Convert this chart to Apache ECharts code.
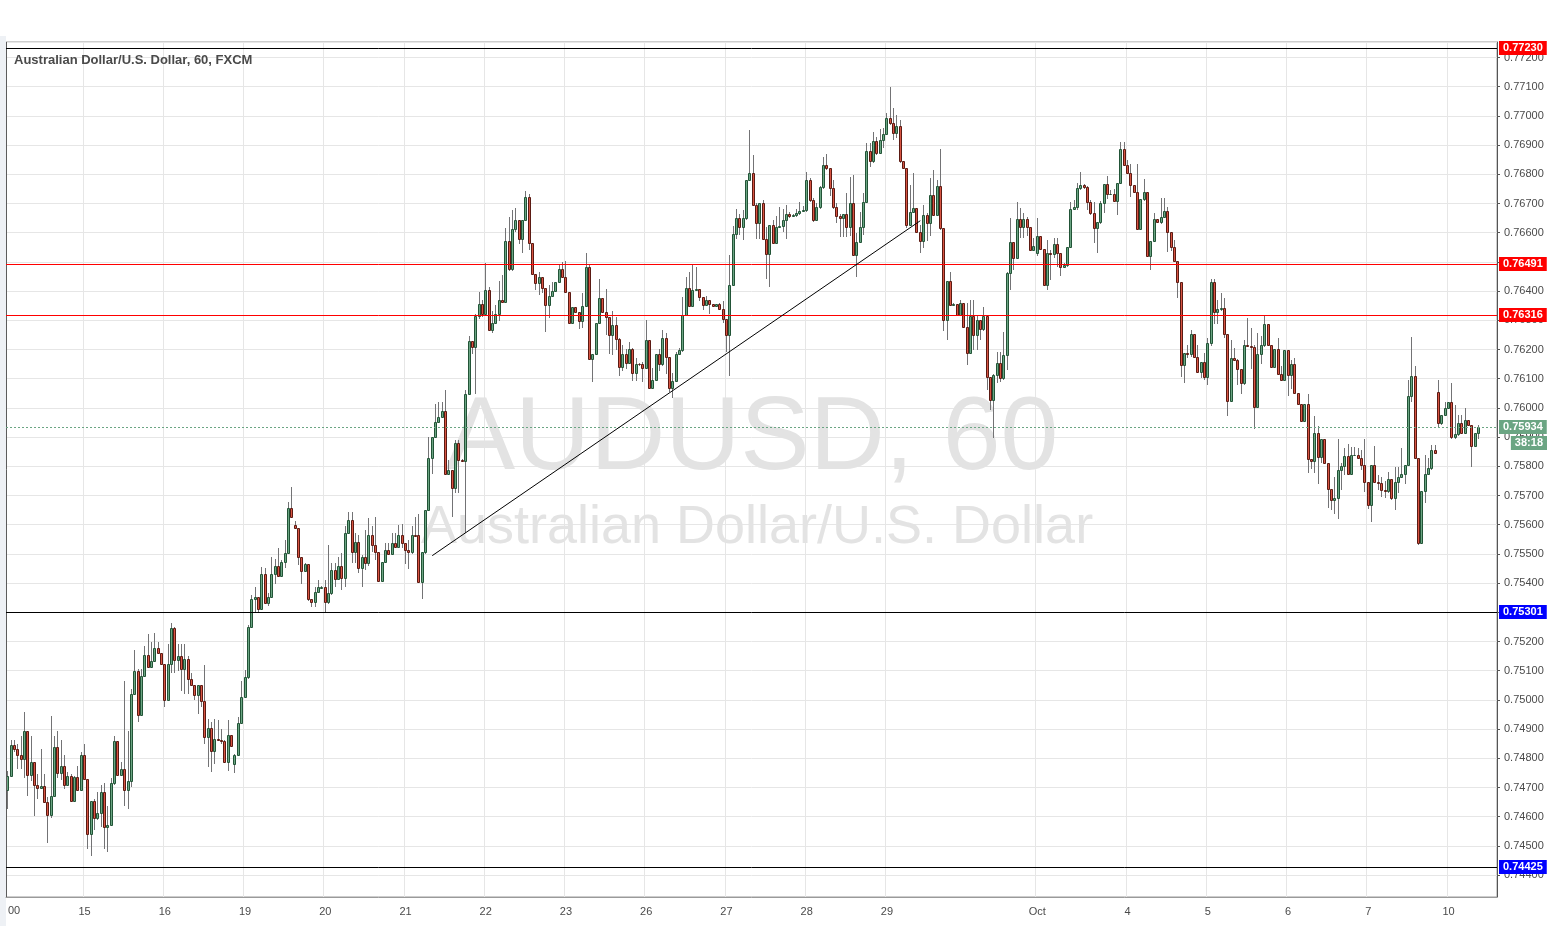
<!DOCTYPE html>
<html><head><meta charset="utf-8">
<script src="https://cdn.jsdelivr.net/npm/echarts@6/dist/echarts.min.js"></script>
<style>html,body{margin:0;padding:0;background:#fff}#c{width:1555px;height:926px}</style>
</head><body><div id="c"></div>
<script>
// ---- DATA (AUD/USD hourly candles) ----
const openP=[0.74693,0.74741,0.74844,0.74832,0.74812,0.74798,0.74892,0.74743,0.74786,0.74709,
0.74699,0.74705,0.74652,0.74606,0.74671,0.74840,0.74750,0.74775,0.74709,0.74741,
0.74654,0.74737,0.74693,0.74810,0.74730,0.74541,0.74655,0.74596,0.74614,0.74683,
0.74566,0.74570,0.74716,0.74858,0.74743,0.74762,0.74693,0.74721,0.75021,0.75100,
0.74949,0.75082,0.75154,0.75112,0.75134,0.75178,0.75161,0.75124,0.75001,0.75124,
0.75247,0.75137,0.75150,0.75106,0.75141,0.75072,0.75052,0.75017,0.75052,0.74996,
0.74872,0.74904,0.74824,0.74867,0.74864,0.74860,0.74787,0.74880,0.74779,0.74813,
0.74921,0.75009,0.75078,0.75251,0.75345,0.75352,0.75311,0.75431,0.75331,0.75352,
0.75431,0.75459,0.75423,0.75471,0.75503,0.75657,0.75598,0.75588,0.75491,0.75443,
0.75465,0.75345,0.75334,0.75368,0.75383,0.75385,0.75334,0.75366,0.75445,0.75413,
0.75459,0.75416,0.75573,0.75617,0.75505,0.75540,0.75451,0.75489,0.75468,0.75564,
0.75530,0.75507,0.75408,0.75472,0.75513,0.75501,0.75539,0.75524,0.75566,0.75536,
0.75513,0.75505,0.75566,0.75566,0.75404,0.75507,0.75652,0.75830,0.75901,0.75952,
0.75969,0.75989,0.75773,0.75787,0.75724,0.75880,0.75821,0.75818,0.76047,0.76230,
0.76207,0.76313,0.76355,0.76323,0.76405,0.76268,0.76289,0.76323,0.76371,0.76361,
0.76571,0.76474,0.76611,0.76645,0.76580,0.76645,0.76721,0.76566,0.76460,0.76428,
0.76447,0.76412,0.76354,0.76383,0.76401,0.76432,0.76474,0.76449,0.76397,0.76289,
0.76346,0.76329,0.76298,0.76350,0.76481,0.76169,0.76183,0.76289,0.76378,0.76329,
0.76312,0.76251,0.76284,0.76236,0.76141,0.76186,0.76155,0.76203,0.76121,0.76152,
0.76149,0.76137,0.76232,0.76067,0.76097,0.76186,0.76149,0.76241,0.76173,0.76069,
0.76092,0.76183,0.76198,0.76318,0.76409,0.76349,0.76403,0.76406,0.76379,0.76354,
0.76368,0.76357,0.76349,0.76357,0.76340,0.76303,0.76249,0.76420,0.76597,0.76649,
0.76618,0.76649,0.76780,0.76805,0.76695,0.76634,0.76700,0.76580,0.76526,0.76626,
0.76566,0.76620,0.76623,0.76643,0.76664,0.76656,0.76659,0.76668,0.76675,0.76677,
0.76780,0.76712,0.76645,0.76687,0.76755,0.76832,0.76820,0.76752,0.76689,0.76657,
0.76649,0.76663,0.76618,0.76701,0.76522,0.76567,0.76618,0.76704,0.76880,0.76844,
0.76914,0.76872,0.76918,0.76937,0.76992,0.76975,0.76941,0.76966,0.76844,0.76821,
0.76627,0.76670,0.76684,0.76602,0.76570,0.76661,0.76632,0.76729,0.76661,0.76760,
0.76615,0.76301,0.76433,0.76352,0.76356,0.76318,0.76358,0.76276,0.76187,0.76313,
0.76250,0.76301,0.76269,0.76313,0.76107,0.76027,0.76113,0.76153,0.76101,0.76181,
0.76461,0.76569,0.76512,0.76646,0.76621,0.76646,0.76618,0.76541,0.76530,0.76589,
0.76543,0.76421,0.76529,0.76526,0.76561,0.76529,0.76484,0.76491,0.76550,0.76680,
0.76687,0.76752,0.76763,0.76757,0.76704,0.76666,0.76615,0.76635,0.76700,0.76765,
0.76731,0.76734,0.76708,0.76769,0.76886,0.76832,0.76803,0.76763,0.76738,0.76611,
0.76715,0.76738,0.76521,0.76571,0.76647,0.76635,0.76655,0.76674,0.76601,0.76552,
0.76503,0.76430,0.76147,0.76187,0.76184,0.76252,0.76175,0.76124,0.76156,0.76107,
0.76221,0.76432,0.76328,0.76339,0.76343,0.76254,0.76023,0.76172,0.76164,0.76134,
0.76086,0.76214,0.76212,0.76209,0.76004,0.76183,0.76214,0.76286,0.76217,0.76141,
0.76200,0.76117,0.76095,0.76198,0.76112,0.76149,0.76050,0.76014,0.75955,0.76012,
0.75826,0.75818,0.75915,0.75833,0.75892,0.75812,0.75721,0.75684,0.75690,0.75787,
0.75800,0.75835,0.75775,0.75838,0.75840,0.75827,0.75804,0.75747,0.75667,0.75806,
0.75747,0.75742,0.75718,0.75716,0.75758,0.75690,0.75747,0.75764,0.75773,0.75804,
0.76042,0.76109,0.75830,0.75539,0.75716,0.75773,0.75795,0.75855,0.76053,0.75947,
0.75975,0.75998,0.76021,0.75899,0.75909,0.75947,0.75915,0.75958,0.75943,0.75869,0.75915];
const closeP=[0.74741,0.74844,0.74832,0.74812,0.74798,0.74892,0.74743,0.74786,0.74709,0.74699,
0.74705,0.74652,0.74606,0.74671,0.74840,0.74750,0.74775,0.74709,0.74741,0.74654,
0.74737,0.74693,0.74810,0.74730,0.74541,0.74655,0.74596,0.74614,0.74683,0.74566,
0.74570,0.74716,0.74858,0.74743,0.74762,0.74693,0.74721,0.75021,0.75100,0.74949,
0.75082,0.75154,0.75112,0.75134,0.75178,0.75161,0.75124,0.75001,0.75124,0.75247,
0.75137,0.75150,0.75106,0.75141,0.75072,0.75052,0.75017,0.75052,0.74996,0.74872,
0.74904,0.74824,0.74867,0.74864,0.74860,0.74787,0.74880,0.74841,0.74813,0.74921,
0.75009,0.75078,0.75251,0.75345,0.75352,0.75311,0.75431,0.75331,0.75352,0.75431,
0.75459,0.75423,0.75471,0.75503,0.75657,0.75626,0.75588,0.75491,0.75443,0.75465,
0.75345,0.75334,0.75368,0.75385,0.75385,0.75334,0.75366,0.75445,0.75413,0.75459,
0.75416,0.75573,0.75617,0.75505,0.75540,0.75451,0.75489,0.75468,0.75564,0.75530,
0.75507,0.75408,0.75472,0.75513,0.75501,0.75539,0.75524,0.75566,0.75536,0.75513,
0.75505,0.75566,0.75562,0.75404,0.75507,0.75652,0.75830,0.75901,0.75952,0.75969,
0.75989,0.75773,0.75787,0.75724,0.75880,0.75821,0.75818,0.76047,0.76230,0.76207,
0.76313,0.76355,0.76323,0.76405,0.76268,0.76289,0.76323,0.76371,0.76361,0.76571,
0.76474,0.76611,0.76645,0.76580,0.76645,0.76721,0.76566,0.76460,0.76428,0.76447,
0.76412,0.76354,0.76383,0.76401,0.76432,0.76474,0.76449,0.76397,0.76289,0.76346,
0.76329,0.76298,0.76350,0.76481,0.76169,0.76183,0.76289,0.76378,0.76329,0.76312,
0.76251,0.76284,0.76236,0.76141,0.76186,0.76155,0.76203,0.76121,0.76152,0.76149,
0.76137,0.76232,0.76067,0.76097,0.76186,0.76149,0.76241,0.76173,0.76069,0.76092,
0.76183,0.76198,0.76318,0.76409,0.76349,0.76403,0.76406,0.76379,0.76354,0.76368,
0.76357,0.76349,0.76357,0.76340,0.76303,0.76249,0.76420,0.76597,0.76649,0.76618,
0.76649,0.76780,0.76805,0.76695,0.76634,0.76700,0.76580,0.76526,0.76626,0.76566,
0.76620,0.76623,0.76643,0.76664,0.76656,0.76659,0.76668,0.76675,0.76677,0.76780,
0.76712,0.76645,0.76687,0.76755,0.76832,0.76820,0.76752,0.76689,0.76657,0.76649,
0.76663,0.76618,0.76701,0.76522,0.76567,0.76618,0.76704,0.76880,0.76844,0.76914,
0.76872,0.76918,0.76937,0.76992,0.76975,0.76941,0.76966,0.76844,0.76821,0.76627,
0.76670,0.76684,0.76602,0.76570,0.76661,0.76632,0.76729,0.76661,0.76760,0.76615,
0.76301,0.76433,0.76353,0.76356,0.76318,0.76358,0.76276,0.76187,0.76313,0.76250,
0.76301,0.76269,0.76313,0.76107,0.76027,0.76113,0.76153,0.76101,0.76181,0.76461,
0.76569,0.76512,0.76646,0.76621,0.76646,0.76618,0.76541,0.76555,0.76589,0.76543,
0.76421,0.76529,0.76526,0.76561,0.76529,0.76484,0.76491,0.76550,0.76680,0.76687,
0.76752,0.76763,0.76757,0.76704,0.76666,0.76615,0.76635,0.76700,0.76765,0.76731,
0.76734,0.76708,0.76769,0.76886,0.76832,0.76803,0.76763,0.76738,0.76611,0.76715,
0.76738,0.76521,0.76571,0.76647,0.76635,0.76655,0.76674,0.76601,0.76552,0.76503,
0.76430,0.76147,0.76187,0.76184,0.76252,0.76175,0.76124,0.76156,0.76107,0.76221,
0.76432,0.76328,0.76339,0.76343,0.76254,0.76023,0.76172,0.76164,0.76134,0.76086,
0.76214,0.76212,0.76209,0.76004,0.76183,0.76214,0.76286,0.76217,0.76141,0.76200,
0.76117,0.76095,0.76198,0.76112,0.76149,0.76050,0.76014,0.75955,0.76012,0.75826,
0.75818,0.75915,0.75833,0.75892,0.75812,0.75721,0.75684,0.75690,0.75787,0.75800,
0.75835,0.75775,0.75838,0.75840,0.75827,0.75804,0.75747,0.75667,0.75806,0.75747,
0.75742,0.75718,0.75716,0.75758,0.75690,0.75747,0.75764,0.75773,0.75804,0.76042,
0.76109,0.75830,0.75539,0.75716,0.75773,0.75795,0.75855,0.75844,0.75947,0.75975,
0.75998,0.76021,0.75899,0.75909,0.75947,0.75915,0.75958,0.75943,0.75869,0.75915,0.75934];
const highP=[0.74756,0.74861,0.74864,0.74850,0.74876,0.74958,0.74895,0.74876,0.74788,0.74747,
0.74832,0.74747,0.74667,0.74944,0.74878,0.74895,0.74864,0.74810,0.74753,0.74747,
0.74740,0.74773,0.74821,0.74850,0.74730,0.74655,0.74660,0.74686,0.74707,0.74715,
0.74638,0.74733,0.74876,0.74860,0.74787,0.75064,0.74892,0.75037,0.75171,0.75105,
0.75105,0.75186,0.75226,0.75198,0.75228,0.75198,0.75161,0.75124,0.75192,0.75264,
0.75251,0.75192,0.75192,0.75192,0.75152,0.75092,0.75052,0.75052,0.75052,0.75118,
0.74935,0.74924,0.74935,0.74930,0.74900,0.74863,0.74932,0.74880,0.74815,0.74941,
0.75066,0.75101,0.75255,0.75360,0.75388,0.75352,0.75455,0.75451,0.75366,0.75488,
0.75484,0.75520,0.75480,0.75548,0.75676,0.75729,0.75614,0.75588,0.75491,0.75468,
0.75465,0.75345,0.75386,0.75411,0.75390,0.75411,0.75531,0.75468,0.75468,0.75489,
0.75502,0.75594,0.75645,0.75645,0.75571,0.75565,0.75497,0.75582,0.75622,0.75594,
0.75627,0.75507,0.75472,0.75536,0.75538,0.75570,0.75572,0.75598,0.75602,0.75536,
0.75547,0.75595,0.75627,0.75638,0.75507,0.75652,0.75901,0.75901,0.76015,0.76020,
0.76020,0.76061,0.75821,0.75787,0.75890,0.75890,0.75825,0.76060,0.76246,0.76230,
0.76323,0.76397,0.76369,0.76495,0.76415,0.76331,0.76352,0.76434,0.76455,0.76617,
0.76654,0.76677,0.76683,0.76645,0.76645,0.76743,0.76734,0.76566,0.76460,0.76466,
0.76447,0.76412,0.76420,0.76432,0.76432,0.76491,0.76500,0.76503,0.76397,0.76346,
0.76346,0.76329,0.76392,0.76529,0.76489,0.76183,0.76290,0.76443,0.76378,0.76407,
0.76312,0.76331,0.76312,0.76240,0.76215,0.76203,0.76226,0.76205,0.76170,0.76155,
0.76158,0.76301,0.76232,0.76136,0.76186,0.76203,0.76266,0.76255,0.76173,0.76118,
0.76192,0.76205,0.76380,0.76449,0.76466,0.76491,0.76483,0.76406,0.76379,0.76383,
0.76368,0.76357,0.76357,0.76360,0.76366,0.76303,0.76523,0.76623,0.76680,0.76664,
0.76677,0.76780,0.76951,0.76866,0.76700,0.76700,0.76712,0.76620,0.76626,0.76643,
0.76657,0.76689,0.76680,0.76695,0.76670,0.76665,0.76680,0.76706,0.76690,0.76809,
0.76786,0.76720,0.76700,0.76760,0.76860,0.76871,0.76820,0.76782,0.76700,0.76663,
0.76665,0.76737,0.76792,0.76798,0.76598,0.76672,0.76735,0.76906,0.76906,0.76946,
0.76929,0.76954,0.76958,0.77009,0.77098,0.77026,0.77003,0.76986,0.76844,0.76821,
0.76764,0.76804,0.76684,0.76627,0.76695,0.76667,0.76787,0.76813,0.76781,0.76886,
0.76615,0.76433,0.76467,0.76358,0.76356,0.76370,0.76358,0.76358,0.76370,0.76370,
0.76313,0.76301,0.76347,0.76313,0.76107,0.76115,0.76193,0.76193,0.76261,0.76465,
0.76649,0.76569,0.76706,0.76684,0.76666,0.76655,0.76618,0.76581,0.76649,0.76589,
0.76543,0.76575,0.76541,0.76581,0.76581,0.76529,0.76495,0.76550,0.76706,0.76712,
0.76769,0.76809,0.76765,0.76760,0.76712,0.76706,0.76635,0.76708,0.76765,0.76795,
0.76746,0.76751,0.76769,0.76909,0.76909,0.76849,0.76834,0.76763,0.76834,0.76715,
0.76784,0.76738,0.76571,0.76666,0.76647,0.76720,0.76720,0.76689,0.76601,0.76575,
0.76503,0.76430,0.76187,0.76217,0.76266,0.76252,0.76217,0.76156,0.76187,0.76240,
0.76442,0.76440,0.76371,0.76392,0.76377,0.76254,0.76234,0.76206,0.76166,0.76134,
0.76231,0.76309,0.76275,0.76214,0.76257,0.76246,0.76314,0.76286,0.76217,0.76200,
0.76240,0.76143,0.76198,0.76198,0.76164,0.76172,0.76050,0.76014,0.76012,0.76046,
0.75826,0.75972,0.75938,0.75892,0.75892,0.75812,0.75721,0.75764,0.75895,0.75810,
0.75861,0.75878,0.75867,0.75867,0.75861,0.75855,0.75895,0.75747,0.75806,0.75869,
0.75770,0.75764,0.75750,0.75781,0.75758,0.75798,0.75798,0.75861,0.75804,0.76095,
0.76243,0.76143,0.75830,0.75716,0.75838,0.75827,0.75872,0.75872,0.76095,0.75975,
0.76021,0.76021,0.76086,0.76010,0.75975,0.75975,0.76001,0.75958,0.75943,0.75915,0.75941];
const lowP=[0.74627,0.74740,0.74820,0.74762,0.74762,0.74732,0.74670,0.74722,0.74604,0.74661,
0.74695,0.74650,0.74509,0.74595,0.74670,0.74732,0.74727,0.74695,0.74708,0.74650,
0.74650,0.74690,0.74690,0.74730,0.74490,0.74467,0.74553,0.74590,0.74564,0.74490,
0.74479,0.74570,0.74709,0.74740,0.74740,0.74636,0.74625,0.74700,0.75020,0.74924,
0.74949,0.75080,0.75110,0.75110,0.75130,0.75160,0.75124,0.74977,0.75000,0.75092,
0.75092,0.75100,0.75032,0.75021,0.75021,0.75050,0.75000,0.74950,0.74975,0.74850,
0.74770,0.74753,0.74781,0.74860,0.74850,0.74785,0.74758,0.74840,0.74749,0.74810,
0.74920,0.75008,0.75070,0.75250,0.75300,0.75300,0.75310,0.75330,0.75322,0.75350,
0.75397,0.75420,0.75420,0.75451,0.75500,0.75625,0.75588,0.75463,0.75397,0.75440,
0.75340,0.75318,0.75318,0.75365,0.75380,0.75297,0.75329,0.75360,0.75388,0.75410,
0.75377,0.75388,0.75570,0.75468,0.75468,0.75434,0.75388,0.75445,0.75460,0.75505,
0.75479,0.75404,0.75404,0.75470,0.75500,0.75496,0.75520,0.75520,0.75519,0.75465,
0.75447,0.75500,0.75560,0.75400,0.75344,0.75500,0.75650,0.75775,0.75900,0.75947,
0.75969,0.75770,0.75770,0.75627,0.75707,0.75707,0.75815,0.75570,0.76045,0.76186,
0.76047,0.76306,0.76312,0.76320,0.76265,0.76255,0.76289,0.76297,0.76360,0.76360,
0.76470,0.76470,0.76603,0.76560,0.76532,0.76640,0.76540,0.76460,0.76403,0.76386,
0.76392,0.76260,0.76308,0.76380,0.76400,0.76430,0.76449,0.76397,0.76289,0.76289,
0.76329,0.76270,0.76272,0.76350,0.76163,0.76089,0.76180,0.76289,0.76329,0.76249,
0.76186,0.76180,0.76198,0.76110,0.76128,0.76134,0.76150,0.76092,0.76092,0.76145,
0.76089,0.76135,0.76067,0.76065,0.76095,0.76127,0.76145,0.76115,0.76055,0.76035,
0.76090,0.76180,0.76192,0.76313,0.76347,0.76347,0.76400,0.76365,0.76336,0.76353,
0.76321,0.76346,0.76347,0.76338,0.76291,0.76192,0.76110,0.76420,0.76577,0.76592,
0.76575,0.76645,0.76777,0.76690,0.76577,0.76577,0.76577,0.76443,0.76415,0.76565,
0.76565,0.76615,0.76603,0.76580,0.76650,0.76653,0.76655,0.76660,0.76670,0.76670,
0.76706,0.76636,0.76640,0.76680,0.76750,0.76815,0.76725,0.76680,0.76632,0.76584,
0.76584,0.76584,0.76587,0.76522,0.76447,0.76567,0.76592,0.76700,0.76826,0.76840,
0.76866,0.76870,0.76889,0.76935,0.76970,0.76918,0.76924,0.76840,0.76820,0.76615,
0.76625,0.76667,0.76600,0.76532,0.76547,0.76570,0.76589,0.76660,0.76660,0.76610,
0.76265,0.76233,0.76350,0.76350,0.76313,0.76315,0.76275,0.76147,0.76185,0.76198,
0.76198,0.76233,0.76265,0.76061,0.75993,0.75896,0.76084,0.76090,0.76095,0.76130,
0.76404,0.76472,0.76510,0.76581,0.76581,0.76587,0.76540,0.76540,0.76520,0.76540,
0.76420,0.76404,0.76438,0.76512,0.76484,0.76450,0.76483,0.76484,0.76548,0.76678,
0.76678,0.76746,0.76750,0.76678,0.76660,0.76563,0.76532,0.76630,0.76669,0.76717,
0.76730,0.76708,0.76660,0.76765,0.76830,0.76800,0.76723,0.76738,0.76610,0.76610,
0.76710,0.76520,0.76472,0.76570,0.76635,0.76630,0.76650,0.76535,0.76537,0.76500,
0.76375,0.76107,0.76084,0.76170,0.76175,0.76175,0.76120,0.76103,0.76095,0.76080,
0.76212,0.76286,0.76286,0.76332,0.76240,0.75972,0.76020,0.76160,0.76080,0.76046,
0.76080,0.76210,0.76132,0.75929,0.76000,0.76152,0.76210,0.76215,0.76140,0.76140,
0.76115,0.76095,0.76095,0.76040,0.76063,0.76050,0.76014,0.75955,0.75950,0.75778,
0.75790,0.75778,0.75738,0.75812,0.75810,0.75658,0.75650,0.75638,0.75621,0.75720,
0.75770,0.75770,0.75770,0.75835,0.75825,0.75787,0.75713,0.75655,0.75610,0.75745,
0.75720,0.75695,0.75690,0.75707,0.75684,0.75650,0.75707,0.75760,0.75741,0.75800,
0.76021,0.75830,0.75530,0.75537,0.75673,0.75770,0.75789,0.75842,0.75935,0.75941,
0.75972,0.75995,0.75895,0.75895,0.75905,0.75910,0.75910,0.75940,0.75798,0.75867,0.75895];

// x-axis day labels (first hourly bar of each labelled day)
const tickKeys=['09-15 00','09-16 00','09-19 00','09-20 00','09-21 00','09-22 00','09-23 00','09-26 00','09-27 00','09-28 00','09-29 00','10-02 21','10-04 00','10-05 00','10-06 00','10-07 00','10-10 00'];
const tickTexts=['15','16','19','20','21','22','23','26','27','28','29','Oct','4','5','6','7','10'];
// horizontal levels
const levelPrices=[0.77230,0.76491,0.76316,0.75301,0.74425];
const levelLineColors=['#000000','#ff0000','#ff0000','#000000','#000000'];
const levelBoxColors=['#ff0000','#ff0000','#ff0000','#0000ff','#0000ff'];
// trend line (bar index, price)
const trendStart=[127,0.75494], trendEnd=[273,0.76641];
const lastPrice=0.75934, countdown='38:18';
const titleText='Australian Dollar/U.S. Dollar, 60, FXCM';
const wmBig='AUDUSD, 60', wmSmall='Australian Dollar/U.S. Dollar';

// ---- layout ----
const W=1555, H=926, GL=6, GR=58, GT=42, GB=29;
const FONT='"Liberation Sans", Arial, sans-serif';
const UP_FILL='#6ba583', UP_LINE='#225437', DN_FILL='#d75442', DN_LINE='#5b1a13', WICK='#737375';

// ---- categories: hourly bars, market closed Fri 21:00 -> Sun 21:00 UTC ----
const TOTAL_SLOTS=446;
const pad=n=>String(n).padStart(2,'0');
const categories=[];
let t=Date.UTC(2016,8,14,1);
for(let i=0;i<TOTAL_SLOTS;i++){
  const d=new Date(t);
  categories.push(pad(d.getUTCMonth()+1)+'-'+pad(d.getUTCDate())+' '+pad(d.getUTCHours()));
  t+=3600000;
  const n=new Date(t);
  if(n.getUTCDay()===5&&n.getUTCHours()===21) t+=48*3600000;
}
const tickMap={}; tickKeys.forEach((k,i)=>tickMap[k]=tickTexts[i]);
const isTick=(idx,val)=>tickMap[val]!==undefined;

const candles=openP.map((o,i)=>[i,o,closeP[i],lowP[i],highP[i]]);

function renderCandle(params,api){
  const i=api.value(0),o=api.value(1),c=api.value(2),l=api.value(3),h=api.value(4);
  const pO=api.coord([i,o]),pC=api.coord([i,c]),pL=api.coord([i,l]),pH=api.coord([i,h]);
  const x0=Math.floor(pO[0])-1;
  const up=c>=o;
  const yT=Math.round(Math.min(pO[1],pC[1])),yB=Math.round(Math.max(pO[1],pC[1]));
  return {type:'group',children:[
    {type:'line',shape:{x1:x0+1.5,y1:Math.round(pH[1]),x2:x0+1.5,y2:Math.round(pL[1])},style:{stroke:WICK,lineWidth:1}},
    {type:'rect',shape:{x:x0+0.5,y:yT+0.5,width:2,height:Math.max(yB-yT,0)},style:{fill:up?UP_FILL:DN_FILL,stroke:up?UP_LINE:DN_LINE,lineWidth:1}}
  ]};
}

const baseGraphic=[
  {type:'rect',z:0,silent:true,shape:{x:0,y:GT-6,width:GL,height:H-GT+6},style:{fill:'#eef1f5'}},
  {type:'line',z:20,silent:true,shape:{x1:GL+0.5,y1:GT,x2:GL+0.5,y2:H-GB},style:{stroke:'#5c5c5c',lineWidth:1}},
  {type:'text',x:752,y:440,z:1,silent:true,style:{text:wmBig,font:'104px '+FONT,fill:'#e3e3e3',align:'center',verticalAlign:'middle'}},
  {type:'text',x:757,y:528,z:1,silent:true,style:{text:wmSmall,font:'54px '+FONT,fill:'#e3e3e3',align:'center',verticalAlign:'middle'}},
  {type:'text',x:14,y:60,z:20,silent:true,style:{text:titleText,font:'bold 13px '+FONT,fill:'#4a4a4a',verticalAlign:'middle'}},
  {type:'text',x:8,y:911,z:20,silent:true,style:{text:'00',font:'11px '+FONT,fill:'#4a4a4a',verticalAlign:'middle'}}
];

const chart=echarts.init(document.getElementById('c'),null,{renderer:'canvas'});
chart.setOption({
  animation:false,
  backgroundColor:'#ffffff',
  grid:{left:GL,right:GR,top:GT,bottom:GB,show:true,borderColor:'#9a9a9a',borderWidth:1,backgroundColor:'#fff'},
  xAxis:{type:'category',data:categories,boundaryGap:true,
    axisLine:{show:true,lineStyle:{color:'#9a9a9a'}},
    axisTick:{show:false},
    axisLabel:{interval:isTick,formatter:v=>tickMap[v]||'',color:'#4a4a4a',fontSize:11,fontFamily:FONT,margin:9},
    splitLine:{show:true,interval:isTick,lineStyle:{color:'#e6e6e6',width:1}}},
  yAxis:{type:'value',position:'right',min:0.74325,max:0.77253,splitNumber:30,
    axisLine:{show:true,lineStyle:{color:'#555'}},
    axisTick:{show:true,length:3,lineStyle:{color:'#555'}},
    axisLabel:{showMinLabel:false,showMaxLabel:false,formatter:v=>v.toFixed(5),color:'#4a4a4a',fontSize:11,fontFamily:FONT,margin:7},
    splitLine:{show:true,lineStyle:{color:'#e6e6e6',width:1}}},
  graphic:baseGraphic,
  series:[
    {type:'custom',name:'AUDUSD',renderItem:renderCandle,data:candles,encode:{x:0,y:[1,2,3,4]},clip:true,z:3}
  ]
});

// ---- overlay drawings placed through the chart's own scales ----
const x1=GL, x2=W-GR;
const yOf=p=>Math.floor(chart.convertToPixel({yAxisIndex:0},p))+0.5;
const box=(txt,bg,x,y,align)=>({type:'text',x:x,y:y,z:30,silent:true,
  style:{text:txt,font:'bold 11px '+FONT,fill:'#fff',backgroundColor:bg,padding:[2,4,1,4],align:align||'left',verticalAlign:'middle'}});
const overlay=[];
levelPrices.forEach((p,k)=>{
  const y=yOf(p);
  overlay.push({type:'line',z:25,silent:true,shape:{x1:x1,y1:y,x2:x2,y2:y},style:{stroke:levelLineColors[k],lineWidth:1}});
  overlay.push(box(p.toFixed(5),levelBoxColors[k],x2+2,y-0.5));
});
const yLast=yOf(lastPrice);
overlay.push({type:'line',z:25,silent:true,shape:{x1:x1,y1:yLast,x2:x2,y2:yLast},style:{stroke:UP_FILL,lineWidth:1,lineDash:[2,2]}});
overlay.push(box(lastPrice.toFixed(5),UP_FILL,x2+2,yLast-0.5));
overlay.push(box(countdown,UP_FILL,W-8,yLast+15.5,'right'));
const ps=chart.convertToPixel({gridIndex:0},trendStart), pe=chart.convertToPixel({gridIndex:0},trendEnd);
overlay.push({type:'line',z:25,silent:true,shape:{x1:ps[0],y1:ps[1],x2:pe[0],y2:pe[1]},style:{stroke:'#000',lineWidth:1}});
chart.setOption({graphic:baseGraphic.concat(overlay)});
</script></body></html>
